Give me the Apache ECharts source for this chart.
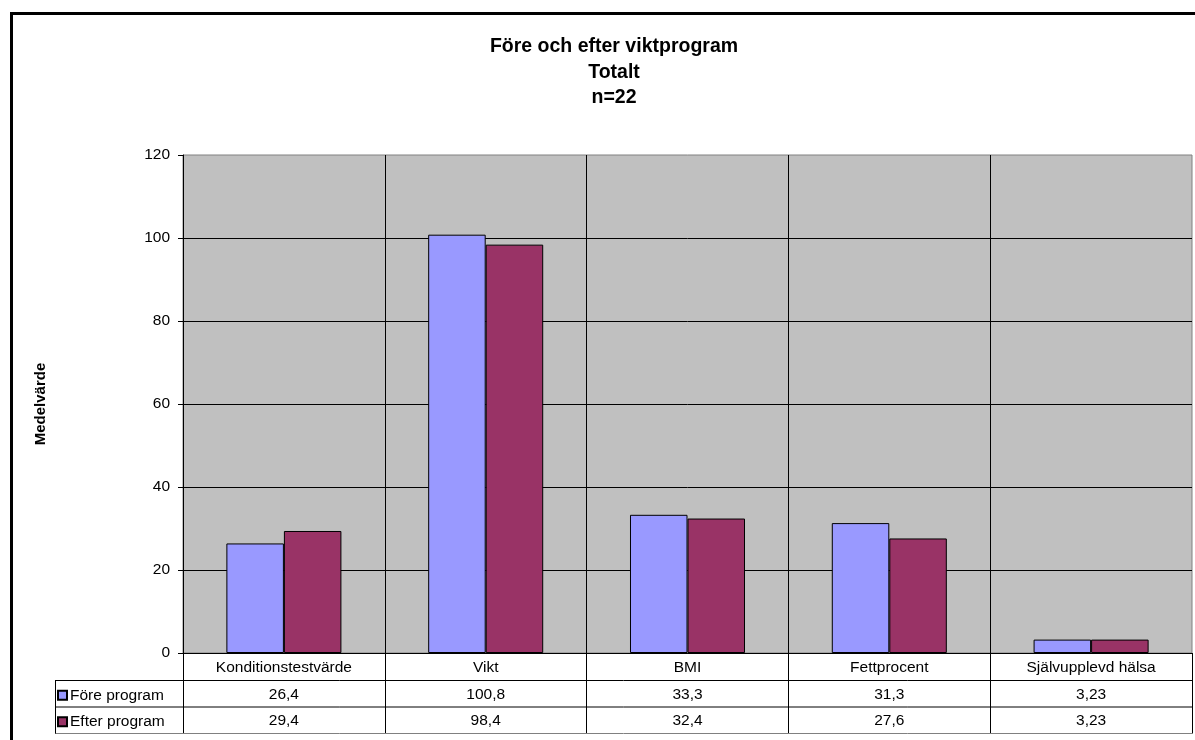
<!DOCTYPE html>
<html>
<head>
<meta charset="utf-8">
<script src="https://cdn.jsdelivr.net/npm/echarts@6/dist/echarts.min.js"></script>
<style>
  html, body { margin: 0; padding: 0; background: #fff; }
  #chart { width: 1195px; height: 740px; }
</style>
</head>
<body>
<div id="chart"></div>
<script>
// Mean values before and after the weight programme (n=22)
const categories = ['Konditionstestvärde', 'Vikt', 'BMI', 'Fettprocent', 'Självupplevd hälsa'];
const seriesNames = ['Före program', 'Efter program'];
const foreValues = [26.4, 100.8, 33.3, 31.3, 3.23];
const efterValues = [29.4, 98.4, 32.4, 27.6, 3.23];
const yMin = 0, yMax = 120, yStep = 20;

const FONT = '"Liberation Sans", Arial, sans-serif';
const LABEL_SIZE = 15.5;
const fmt = v => String(v).replace('.', ',');

// plot area geometry (pixels)
const G = { left: 183, top: 155, width: 1009, height: 498 };
const gBottom = G.top + G.height;
const gRight = G.left + G.width;
const rowH = 26.5;
const tableLeft = 55;
const row1Top = gBottom + 27.5;
const row2Top = row1Top + rowH;
const tableBottom = row2Top + rowH;

const chart = echarts.init(document.getElementById('chart'), null, { renderer: 'canvas' });

const tableAxis = (values, offset) => ({
  type: 'category',
  gridIndex: 0,
  position: 'bottom',
  offset: offset,
  data: values.map(fmt),
  axisLine: { show: false },
  axisTick: { show: false },
  splitLine: { show: false },
  axisLabel: { interval: 0, margin: 6, fontSize: LABEL_SIZE, color: '#000', fontFamily: FONT }
});

chart.setOption({
  animation: false,
  backgroundColor: '#fff',
  textStyle: { fontFamily: FONT },
  title: {
    text: 'Före och efter viktprogram\nTotalt\nn=22',
    left: 609,
    textAlign: 'center',
    top: 29,
    textStyle: { fontSize: 19.5, fontWeight: 'bold', color: '#000', lineHeight: 25.5, fontFamily: FONT }
  },
  legend: {
    orient: 'vertical',
    left: 57,
    top: row1Top + 6,
    padding: 0,
    itemWidth: 9,
    itemHeight: 9,
    itemGap: 9,
    icon: 'rect',
    data: seriesNames,
    textStyle: { fontSize: LABEL_SIZE, color: '#000', padding: [0, 0, 0, -2], lineHeight: 17.5, fontFamily: FONT }
  },
  grid: {
    left: G.left, top: G.top, width: G.width, height: G.height,
    show: true, backgroundColor: '#C0C0C0', borderColor: '#808080', borderWidth: 1
  },
  xAxis: [
    {
      type: 'category',
      data: categories,
      boundaryGap: true,
      axisLine: { show: true, lineStyle: { color: '#000', width: 1 } },
      axisTick: { show: true, length: tableBottom - gBottom, lineStyle: { color: '#000' } },
      splitLine: { show: true, showMaxLine: false, lineStyle: { color: '#000', width: 1 } },
      axisLabel: { interval: 0, margin: 7, fontSize: LABEL_SIZE, color: '#000', fontFamily: FONT }
    },
    tableAxis(foreValues, row1Top - gBottom),
    tableAxis(efterValues, row2Top - gBottom)
  ],
  yAxis: {
    type: 'value',
    min: yMin, max: yMax, interval: yStep,
    name: 'Medelvärde',
    nameLocation: 'middle',
    nameRotate: 90,
    nameGap: 135,
    nameTextStyle: { fontSize: 15, fontWeight: 'bold', color: '#000', fontFamily: FONT },
    axisLine: { show: true, lineStyle: { color: '#000', width: 1 } },
    axisTick: { show: true, length: 5, lineStyle: { color: '#000' } },
    splitLine: { show: true, showMaxLine: false, lineStyle: { color: '#000', width: 1 } },
    axisLabel: { margin: 13, fontSize: LABEL_SIZE, color: '#000', fontFamily: FONT }
  },
  series: [
    {
      name: seriesNames[0], type: 'bar', data: foreValues,
      barGap: '0%', barCategoryGap: '43%',
      itemStyle: { color: '#9999FF', borderColor: '#000', borderWidth: 1 }
    },
    {
      name: seriesNames[1], type: 'bar', data: efterValues,
      barGap: '0%', barCategoryGap: '43%',
      itemStyle: { color: '#993366', borderColor: '#000', borderWidth: 1 }
    }
  ],
  graphic: [
    // outer chart frame
    { type: 'rect', z: 10, silent: true,
      shape: { x: 11.5, y: 13.5, width: 1200, height: 760 },
      style: { fill: null, stroke: '#000', lineWidth: 3 } },
    // data table grid lines
    { type: 'line', z: 10, shape: { x1: tableLeft, y1: row1Top, x2: gRight, y2: row1Top },
      style: { stroke: '#000', lineWidth: 1 } },
    { type: 'line', z: 10, shape: { x1: tableLeft, y1: row2Top, x2: gRight, y2: row2Top },
      style: { stroke: '#000', lineWidth: 1 } },
    { type: 'line', z: 10, shape: { x1: tableLeft, y1: tableBottom, x2: gRight, y2: tableBottom },
      style: { stroke: '#808080', lineWidth: 1 } },
    { type: 'line', z: 10, shape: { x1: tableLeft + 0.5, y1: row1Top, x2: tableLeft + 0.5, y2: tableBottom },
      style: { stroke: '#000', lineWidth: 1 } }
  ]
});
</script>
</body>
</html>
